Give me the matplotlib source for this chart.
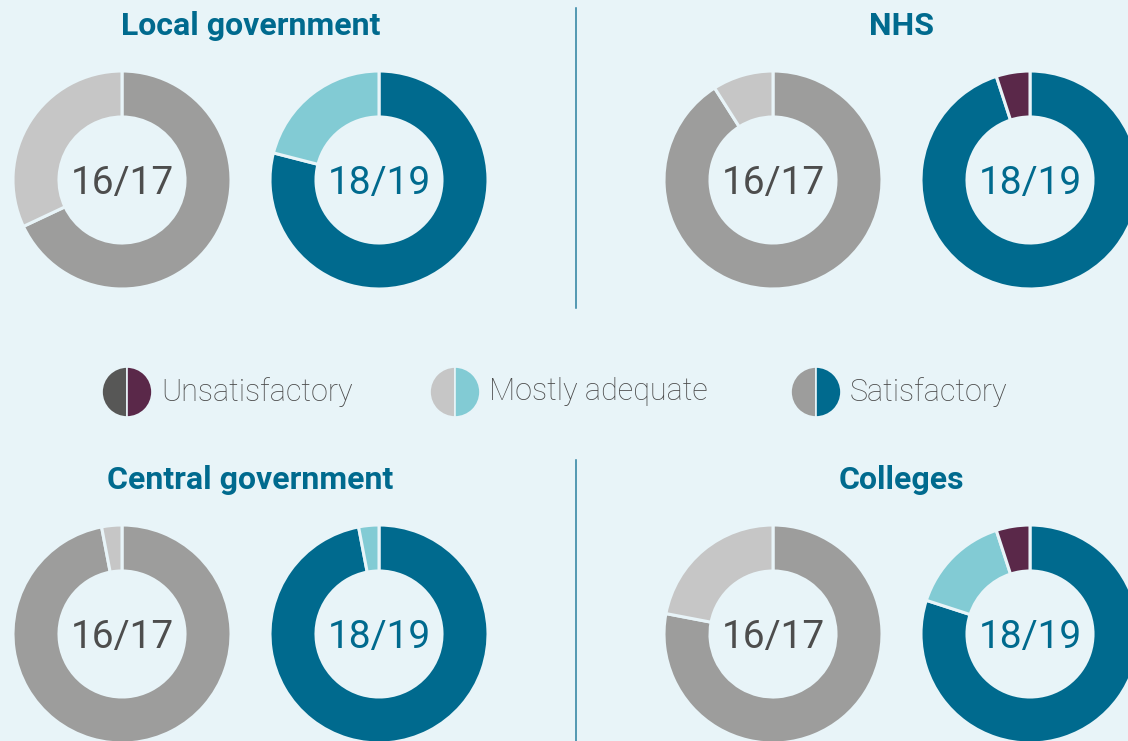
"""
Audit opinion donuts: share of bodies by rating, 2016/17 vs 2018/19,
for four sectors. Saves out.png (1128x741).
"""
import matplotlib
matplotlib.use("Agg")
import matplotlib.pyplot as plt

W, H = 1128, 741
BG = "#e8f4f8"
TEAL = "#006a8e"

# --- data (percent of bodies) ---
panels = ["Local government", "NHS", "Central government", "Colleges"]
years = ["16/17", "18/19"]
categories = ["Satisfactory", "Mostly adequate", "Unsatisfactory"]
share_1617 = [[68, 32, 0], [91, 9, 0], [97, 3, 0], [78, 22, 0]]
share_1819 = [[79, 21, 0], [95, 0, 5], [97, 3, 0], [80, 15, 5]]

colors_1617 = ["#9d9d9c", "#c6c6c6", "#575756"]
colors_1819 = ["#006a8e", "#82cbd4", "#5a2849"]
label_colors = ["#4d4d4d", TEAL]
legend_order = ["Unsatisfactory", "Mostly adequate", "Satisfactory"]

# --- layout in pixels from the top-left corner ---
panel_x = [122, 773, 122, 773]        # centre of the 16/17 donut
panel_y = [180, 180, 634, 634]
donut_dx = 257                        # 18/19 donut sits to the right
title_y = [26, 26, 480, 480]
R_OUT, R_IN = 109, 63

plt.rcParams["font.family"] = ["Roboto", "DejaVu Sans"]

fig = plt.figure(figsize=(W / 100, H / 100), dpi=100, facecolor=BG)
ax = fig.add_axes([0, 0, 1, 1])
ax.set_facecolor(BG)


def fy(y):
    return H - y


for i, name in enumerate(panels):
    cx, cy = panel_x[i], fy(panel_y[i])
    for j, (shares, cols) in enumerate(((share_1617[i], colors_1617),
                                        (share_1819[i], colors_1819))):
        vals = [v for v in shares if v > 0]
        cs = [c for v, c in zip(shares, cols) if v > 0]
        x = cx + j * donut_dx
        ax.pie(vals, colors=cs, center=(x, cy), radius=R_OUT,
               startangle=90, counterclock=False,
               wedgeprops=dict(width=R_OUT - R_IN, edgecolor=BG, linewidth=2.2))
        # nudge down a few px so the digits sit on the optical centre
        ax.text(x, cy - 3, years[j], ha="center", va="center", fontsize=28,
                fontweight="normal", color=label_colors[j])
    ax.text(cx + donut_dx / 2, fy(title_y[i]), name, ha="center", va="center",
            fontsize=23, fontweight="bold", color=TEAL)

# vertical dividers between left and right panels
ax.plot([576, 576], [fy(8), fy(308)], color="#2a7f9e", lw=1.1)
ax.plot([576, 576], [fy(460), fy(741)], color="#2a7f9e", lw=1.1)

# legend: half-and-half circles (left = 16/17 colour, right = 18/19 colour)
legend_x = [127, 455, 816]
legend_y = fy(392)
for k, cat in enumerate(legend_order):
    idx = categories.index(cat)
    ax.pie([1, 1], colors=[colors_1617[idx], colors_1819[idx]],
           center=(legend_x[k], legend_y), radius=25, startangle=90,
           counterclock=True, wedgeprops=dict(edgecolor=BG, linewidth=1.2))
    ax.text(legend_x[k] + 34, legend_y, cat, ha="left", va="center",
            fontsize=22, fontweight="light", color="#4a4a4a")

ax.set_xlim(0, W)
ax.set_ylim(0, H)
ax.set_aspect("equal")
ax.axis("off")

fig.savefig("out.png", dpi=100, facecolor=BG)
